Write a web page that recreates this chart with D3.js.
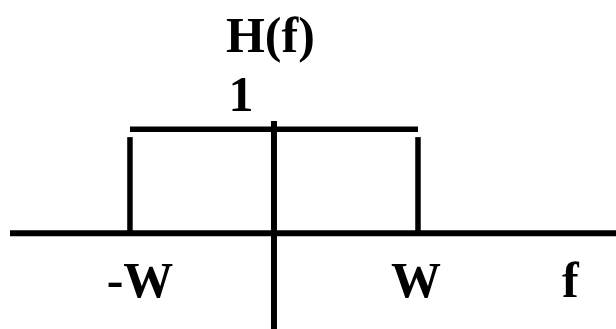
<!DOCTYPE html>
<html><head><meta charset="utf-8">
<script src="https://cdn.jsdelivr.net/npm/d3@7"></script>
<style>
html,body{margin:0;padding:0;background:#fff;overflow:hidden;}
text{font-family:"Liberation Serif","Times New Roman",serif;font-weight:bold;font-size:50px;fill:#000;}
</style></head>
<body>
<script>
// Data (in units of W for frequency, H(f) amplitude)
const freqDomain = [-1.833, 2.375];     // visible frequency range (f / W)
const ampDomain = [-0.92, 1.08];        // visible amplitude range
const pulseEdges = [-1, 1];             // band edges -W, W
const pulseLevel = [1];                 // H(f) = 1 inside band
const stubTop = [0.925];                // edge stub height (gap under top)
const edgeLabels = ["-W", "W"];
const levelLabel = ["1"];
const axisLabelX = ["f"];
const axisLabelY = ["H(f)"];

const width = 616, height = 329;
const svg = d3.select("body").append("svg").attr("width", width).attr("height", height);

const x = d3.scaleLinear().domain(freqDomain).range([10, 616]);
const y = d3.scaleLinear().domain(ampDomain).range([329, 121]);

// horizontal (f) axis
svg.append("line")
  .attr("x1", x(freqDomain[0])).attr("x2", x(freqDomain[1]))
  .attr("y1", y(0)).attr("y2", y(0))
  .attr("stroke", "#000").attr("stroke-width", 6);

// vertical (H) axis
svg.append("line")
  .attr("x1", x(0)).attr("x2", x(0))
  .attr("y1", y(ampDomain[1])).attr("y2", y(ampDomain[0]))
  .attr("stroke", "#000").attr("stroke-width", 6);

// top of pulse
svg.append("line")
  .attr("x1", x(pulseEdges[0])).attr("x2", x(pulseEdges[1]))
  .attr("y1", y(pulseLevel[0])).attr("y2", y(pulseLevel[0]))
  .attr("stroke", "#000").attr("stroke-width", 5.5);

// edge stubs
svg.selectAll("line.edge").data(pulseEdges).join("line")
  .attr("class", "edge")
  .attr("x1", d => x(d)).attr("x2", d => x(d))
  .attr("y1", y(stubTop[0])).attr("y2", y(0))
  .attr("stroke", "#000").attr("stroke-width", 5.5);

// edge labels
const labelOffsets = [10, -2];
svg.selectAll("text.edge").data(pulseEdges).join("text")
  .attr("class", "edge")
  .attr("x", (d, i) => x(d) + labelOffsets[i])
  .attr("y", 297)
  .attr("text-anchor", "middle")
  .text((d, i) => edgeLabels[i]);

// f label
svg.append("text")
  .attr("x", 562).attr("y", 297)
  .text(axisLabelX[0]);

// H(f) label
svg.append("text")
  .attr("x", x(0) - 48).attr("y", 52)
  .text(axisLabelY[0]);

// level label "1"
svg.append("text")
  .attr("x", x(0) - 33).attr("y", y(pulseLevel[0]) - 18)
  .attr("text-anchor", "middle")
  .text(levelLabel[0]);
</script>
</body></html>
